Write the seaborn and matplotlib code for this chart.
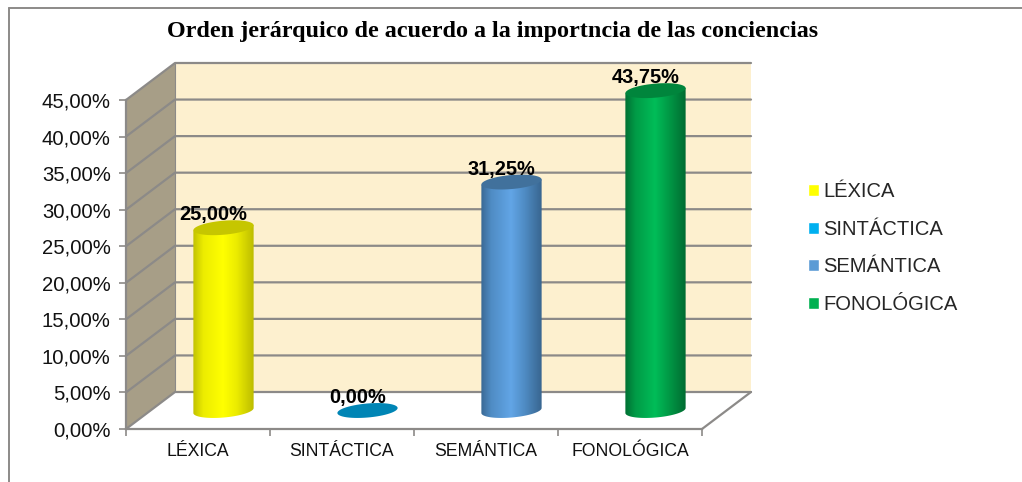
import numpy as np
import matplotlib
matplotlib.use('Agg')
import matplotlib.pyplot as plt
import seaborn as sns
from matplotlib.colors import LinearSegmentedColormap
from matplotlib.lines import Line2D
from matplotlib.patches import Polygon
from matplotlib.path import Path
from matplotlib.transforms import IdentityTransform

categorias = ['LÉXICA', 'SINTÁCTICA', 'SEMÁNTICA', 'FONOLÓGICA']
valores = [25.0, 0.0, 31.25, 43.75]
ticks_y = [0, 5, 10, 15, 20, 25, 30, 35, 40, 45]
titulo = 'Orden jerárquico de acuerdo a la importncia de las conciencias'

# colores: leyenda, tapa superior, degradado del cilindro (borde, medio, centro)
col_leyenda = ['#ffff00', '#00b0f0', '#5b9bd5', '#00b050']
col_tapa = ['#c6c600', '#0085b5', '#41719c', '#00853c']
col_borde = [('#bcbc00', '#ecec00', '#ffff00'),
             ('#0085b5', '#0085b5', '#0085b5'),
             ('#38658f', '#4f8cc4', '#62a5e6'),
             ('#006b31', '#009a46', '#00bd58')]

sns.set_theme(style='white')
plt.rcParams['font.family'] = ['Liberation Sans', 'DejaVu Sans']

W, H = 1022, 482
fig = plt.figure(figsize=(W / 100, H / 100), dpi=100)
ax = fig.add_axes([126 / W, 1 - 429 / H, 576 / W, 329 / H])

sns.barplot(x=categorias, y=valores, hue=categorias, palette=col_leyenda, width=0.42, legend=True,
            saturation=1, ax=ax, zorder=5)
ax.set_xlim(-0.5, 3.5)
ax.set_ylim(0, 45)
ax.patch.set_alpha(0)

# profundidad del grafico 3D, en unidades de datos
dx = 49 / 144
dy = 37 / (329 / 45)

gris = '#8c8a88'
ax.add_patch(Polygon([(-0.5 + dx, dy), (3.5 + dx, dy), (3.5 + dx, 45 + dy), (-0.5 + dx, 45 + dy)],
                     fc='#fdf0cf', ec='none', clip_on=False, zorder=0))
ax.add_patch(Polygon([(-0.5, 0), (-0.5 + dx, dy), (-0.5 + dx, 45 + dy), (-0.5, 45)],
                     fc='#a79e87', ec='none', clip_on=False, zorder=0))
for t in ticks_y:
    ax.plot([-0.5, -0.5 + dx, 3.5 + dx], [t, t + dy, t + dy], color=gris, lw=1.6,
            clip_on=False, zorder=1)
ax.plot([-0.5 + dx, -0.5 + dx], [dy, 45 + dy], color=gris, lw=0.8, clip_on=False, zorder=1)
ax.plot([3.5, 3.5 + dx], [0, dy], color=gris, lw=1.6, clip_on=False, zorder=1)


def elipse_pts(cx, cy, a, b, t0, t1, ang=np.radians(5)):
    t = np.linspace(t0, t1, 60)
    x = cx + a * np.cos(t) * np.cos(ang) - b * np.sin(t) * np.sin(ang)
    y = cy + a * np.cos(t) * np.sin(ang) + b * np.sin(t) * np.cos(ang)
    return np.column_stack([x, y])


barras = [p for c in ax.containers for p in c]
semi_b = 7
for i, p in enumerate(barras):
    p.set_alpha(0)
    xc = p.get_x() + p.get_width() / 2 + dx / 2
    ya = p.get_height()
    izq = ax.transData.transform((p.get_x() + dx / 2, 0))[0]
    der = ax.transData.transform((p.get_x() + p.get_width() + dx / 2, 0))[0]
    semi_a = (der - izq) / 2
    cx, cy0 = ax.transData.transform((xc, dy / 2))
    cy1 = ax.transData.transform((xc, ya + dy / 2))[1]
    cx += 1

    if ya > 0:
        cuerpo = np.vstack([elipse_pts(cx, cy0, semi_a, semi_b, np.pi, 2 * np.pi),
                            elipse_pts(cx, cy1, semi_a, semi_b, 0, 0.001)[:1],
                            elipse_pts(cx, cy1, semi_a, semi_b, np.pi, np.pi + 0.001)[:1]])
        borde, medio, centro = col_borde[i]
        cmap = LinearSegmentedColormap.from_list('c', [(0, borde), (0.18, medio), (0.5, centro),
                                                       (0.72, medio), (1, borde)])
        grad = np.linspace(0, 1, 256).reshape(1, -1)
        x0 = p.get_x() + dx / 2
        im = ax.imshow(grad, cmap=cmap, aspect='auto', zorder=5, interpolation='bilinear',
                       extent=[x0, x0 + p.get_width() + 0.01, -5, ya + dy + 3])
        # la imagen sale del area de los ejes por la profundidad
        im.set_clip_box(fig.bbox)
        im.set_clip_path(Path(np.vstack([cuerpo, cuerpo[:1]]), closed=True), IdentityTransform())
    ax.set_xlim(-0.5, 3.5)
    ax.set_ylim(0, 45)

    tapa = elipse_pts(cx, cy1, semi_a, semi_b, 0, 2 * np.pi)
    fig.add_artist(Polygon(tapa, fc=col_tapa[i], ec='none', transform=IdentityTransform(), zorder=6))

    etiqueta = f'{valores[i]:.2f}'.replace('.', ',') + '%'
    fig.text(cx - 10, cy1 + 13, etiqueta, transform=IdentityTransform(), ha='center', va='center',
             fontsize=14.4, fontweight='bold', color='black', zorder=7)

sns.despine(ax=ax)
for lado in ['left', 'bottom']:
    ax.spines[lado].set_color(gris)
    ax.spines[lado].set_linewidth(1.6)
ax.set_yticks(ticks_y)
ax.set_yticklabels([f'{t:.2f}'.replace('.', ',') + '%' for t in ticks_y], fontsize=14.6, color='#111111')
ax.set_xticks([-0.5, 0.5, 1.5, 2.5, 3.5])
ax.set_xticklabels([])
ax.set_xticks(range(4), categorias, minor=True, fontsize=12.7, color='#111111')
ax.tick_params(axis='x', which='minor', length=0, pad=10)
ax.tick_params(axis='both', which='major', length=5, width=1.2, color=gris, left=True, bottom=True)
ax.tick_params(axis='y', pad=6)
ax.set_xlabel('')
ax.set_ylabel('')

sns.move_legend(ax, 'center left', bbox_to_anchor=(808 / W, 1 - 248 / H), bbox_transform=fig.transFigure,
                frameon=False, title=None, fontsize=14.5, handlelength=0.55, handleheight=0.55,
                handletextpad=0.2, labelspacing=0.92, borderaxespad=0, borderpad=0)

fig.text(493 / W, 1 - 31 / H, titulo, family='Liberation Serif', fontweight='bold', fontsize=17.4,
         ha='center', va='center', color='black')

fig.add_artist(Line2D([8.5 / W, 8.5 / W], [0, 1 - 7.5 / H], color=gris, lw=1.4))
fig.add_artist(Line2D([8.5 / W, 1], [1 - 7.5 / H, 1 - 7.5 / H], color=gris, lw=1.4))

fig.savefig('out.png', dpi=100)
